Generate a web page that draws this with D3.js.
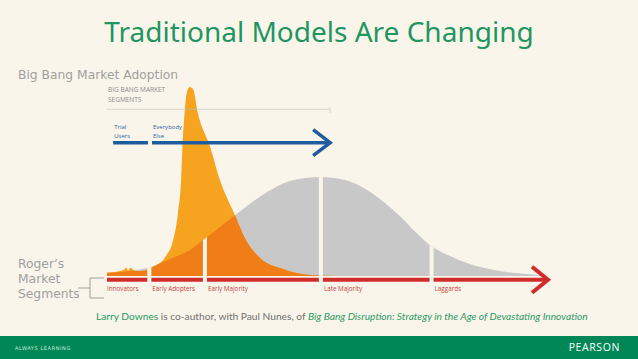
<!DOCTYPE html>
<html>
<head>
<meta charset="utf-8">
<script src="https://cdn.jsdelivr.net/npm/d3@7"></script>
<style>
  body { margin: 0; background: #FAF5EB; }
</style>
</head>
<body>
<div id="chart"></div>
<script>
// Big Bang adoption vs Roger's bell curve

// Data
// x = position along the adoption timeline (0-100), y = share of market (0-100)
var bellX = [0, 5.2, 10.2, 14.3, 18.8, 22.4, 25.6, 29.7, 36.3, 41.5, 48.3, 54, 59, 62.5, 66.4, 69.9, 73.2, 77.8, 81.6, 89.1, 96.6, 100];
var bellY = [1.6, 2.6, 5.0, 8.9, 13.7, 20.0, 25.8, 33.2, 44.2, 50.0, 52.1, 50.5, 45.3, 39.5, 31.6, 23.3, 16.3, 10.5, 6.8, 2.6, 0.8, 0];

var spikeX = [0, 2.5, 3.9, 4.3, 4.8, 5.4, 6.1, 7.5, 9.1, 10.4, 13.2, 15, 16.1, 16.8, 17.1, 17.6, 18, 18.7, 19.5, 20.6, 23.4, 25.6, 28.8, 31.5, 34.7, 39.9, 46, 52.8];
var spikeY = [1.8, 2.4, 3.4, 4.5, 2.9, 4.5, 2.9, 2.6, 3.2, 4.7, 10, 18.9, 33.2, 50.5, 67.9, 85.8, 95.3, 99.5, 98.4, 85.8, 67.9, 50.5, 33.2, 18.9, 9.5, 3.7, 0.5, 0];

// Roger's segments (edges along the timeline)
var segmentEdges = [0, 9.6, 22.2, 48.5, 73.6, 100];
var segmentLabels = ["Innovators", "Early Adopters", "Early Majority", "Late Majority", "Laggards"];

// Big Bang segments
var bigBangEdges = [[1.4, 9.3], [10.2, 50.6]];
var bigBangLabels = [["Trial", "Users"], ["Everybody", "Else"]];

var svgWidth = 638;
var svgHeight = 359;

var svg = d3.select("#chart")
  .append("svg")
  .attr("width", svgWidth)
  .attr("height", svgHeight);

svg.append("rect")
  .attr("width", svgWidth)
  .attr("height", svgHeight)
  .attr("fill", "#FAF5EB");

// Scales
var xScale = d3.scaleLinear().domain([0, 100]).range([107, 548]);
var yScale = d3.scaleLinear().domain([0, 100]).range([276, 86]);

var bell = bellX.map((x, i) => ({x: x, y: bellY[i]}));
var spike = spikeX.map((x, i) => ({x: x, y: spikeY[i]}));

var area = d3.area()
  .x(d => xScale(d.x))
  .y0(yScale(0))
  .y1(d => yScale(d.y))
  .curve(d3.curveMonotoneX);

// clip path = area under the bell curve
svg.append("defs")
  .append("clipPath")
  .attr("id", "bellClip")
  .append("path")
  .attr("d", area(bell));

// Title
svg.append("text")
  .attr("x", 319)
  .attr("y", 42)
  .attr("text-anchor", "middle")
  .attr("font-family", "Noto Sans, sans-serif")
  .attr("font-size", "28px")
  .attr("fill", "#1F965F")
  .text("Traditional Models Are Changing");

svg.append("text")
  .attr("x", 18)
  .attr("y", 79)
  .attr("font-family", "DejaVu Sans, sans-serif")
  .attr("font-size", "12.3px")
  .attr("fill", "#A0A0A0")
  .text("Big Bang Market Adoption");

svg.selectAll(".roger")
  .data(["Roger\u2019s", "Market", "Segments"])
  .enter()
  .append("text")
  .attr("x", 18)
  .attr("y", (d, i) => 268 + i * 15)
  .attr("font-family", "DejaVu Sans, sans-serif")
  .attr("font-size", "12.3px")
  .attr("fill", "#A0A0A0")
  .text(d => d);

// bracket
svg.append("path")
  .attr("d", "M78,288H90M104,278H90V298H104")
  .attr("fill", "none")
  .attr("stroke", "#8A8A8A")
  .attr("stroke-width", 0.8);

// Curves
svg.append("path")
  .attr("d", area(bell))
  .attr("fill", "#C8C8C9");

svg.append("path")
  .attr("d", area(spike))
  .attr("fill", "#F6A320");

svg.append("path")
  .attr("d", area(spike))
  .attr("fill", "#F07D16")
  .attr("clip-path", "url(#bellClip)");

// white gaps between segments
svg.append("g")
  .attr("clip-path", "url(#bellClip)")
  .selectAll("rect")
  .data(segmentEdges.slice(1, -1))
  .enter()
  .append("rect")
  .attr("x", d => xScale(d) - 2)
  .attr("y", 80)
  .attr("width", 4)
  .attr("height", 200)
  .attr("fill", "#FAF5EB");

// Red segment bar
var barY = 279.7;
svg.selectAll(".seg")
  .data(segmentLabels)
  .enter()
  .append("line")
  .attr("x1", (d, i) => xScale(segmentEdges[i]) + (i > 0 ? 2 : 0))
  .attr("x2", (d, i) => xScale(segmentEdges[i + 1]) - 2)
  .attr("y1", barY)
  .attr("y2", barY)
  .attr("stroke", "#D02C2C")
  .attr("stroke-width", 4);

svg.append("path")
  .attr("d", `M${xScale(100) - 16},${barY - 13}L${xScale(100)},${barY}L${xScale(100) - 16},${barY + 13}`)
  .attr("fill", "none")
  .attr("stroke", "#D02C2C")
  .attr("stroke-width", 4);

svg.selectAll(".segLabel")
  .data(segmentLabels)
  .enter()
  .append("text")
  .attr("x", (d, i) => xScale(segmentEdges[i]) + (i > 0 ? 3 : 0))
  .attr("y", 291)
  .attr("font-family", "Open Sans, sans-serif")
  .attr("font-size", "6.3px")
  .attr("fill", "#C4463C")
  .text(d => d);

// Big Bang segments
svg.append("text")
  .attr("x", 108)
  .attr("y", 91.5)
  .attr("font-family", "Open Sans, sans-serif")
  .attr("font-size", "6.5px")
  .attr("fill", "#8C8C8C")
  .text("BIG BANG MARKET");
svg.append("text")
  .attr("x", 108)
  .attr("y", 101.5)
  .attr("font-family", "Open Sans, sans-serif")
  .attr("font-size", "6.5px")
  .attr("fill", "#8C8C8C")
  .text("SEGMENTS");

var bbEnd = xScale(bigBangEdges[1][1]);
svg.append("path")
  .attr("d", `M${xScale(0)},109.3H${bbEnd}M${bbEnd},107V113`)
  .attr("fill", "none")
  .attr("stroke", "#BDBDBD")
  .attr("stroke-width", 0.6);

var blueY = 142.7;
svg.selectAll(".bb")
  .data(bigBangEdges)
  .enter()
  .append("line")
  .attr("x1", d => xScale(d[0]))
  .attr("x2", (d, i) => xScale(d[1]) - (i == 1 ? 2 : 0))
  .attr("y1", blueY)
  .attr("y2", blueY)
  .attr("stroke", "#1E5C9E")
  .attr("stroke-width", 3.5);

svg.append("path")
  .attr("d", `M${bbEnd - 17},${blueY - 13}L${bbEnd},${blueY}L${bbEnd - 17},${blueY + 13}`)
  .attr("fill", "none")
  .attr("stroke", "#1E5C9E")
  .attr("stroke-width", 3.5);

bigBangLabels.forEach((lines, i) => {
  lines.forEach((t, j) => {
    svg.append("text")
      .attr("x", xScale(bigBangEdges[i][0]) + 1)
      .attr("y", 129 + j * 9)
      .attr("font-family", "Open Sans, sans-serif")
      .attr("font-size", "6px")
      .attr("fill", "#2A65A8")
      .text(t);
  });
});

// Credit line
var credit = svg.append("text")
  .attr("x", 96)
  .attr("y", 320)
  .attr("font-family", "Lato, sans-serif")
  .attr("font-size", "10.2px");
credit.append("tspan").attr("fill", "#2A9A63").text("Larry Downes");
credit.append("tspan").attr("fill", "#707070").text(" is co-author, with Paul Nunes, of ");
credit.append("tspan").attr("fill", "#2A9A63").attr("font-style", "italic")
  .text("Big Bang Disruption: Strategy in the Age of Devastating Innovation");

// Footer band
svg.append("rect")
  .attr("x", 0)
  .attr("y", 336)
  .attr("width", svgWidth)
  .attr("height", svgHeight - 336)
  .attr("fill", "#008758");

svg.append("text")
  .attr("x", 15)
  .attr("y", 350)
  .attr("font-family", "DejaVu Sans, sans-serif")
  .attr("font-size", "5px")
  .attr("letter-spacing", "0.6px")
  .attr("fill", "#CFE8DC")
  .text("ALWAYS LEARNING");

svg.append("text")
  .attr("x", 620)
  .attr("y", 351)
  .attr("text-anchor", "end")
  .attr("font-family", "Open Sans, sans-serif")
  .attr("font-size", "10.5px")
  .attr("letter-spacing", "0.6px")
  .attr("fill", "#FFFFFF")
  .text("PEARSON");
</script>
</body>
</html>
